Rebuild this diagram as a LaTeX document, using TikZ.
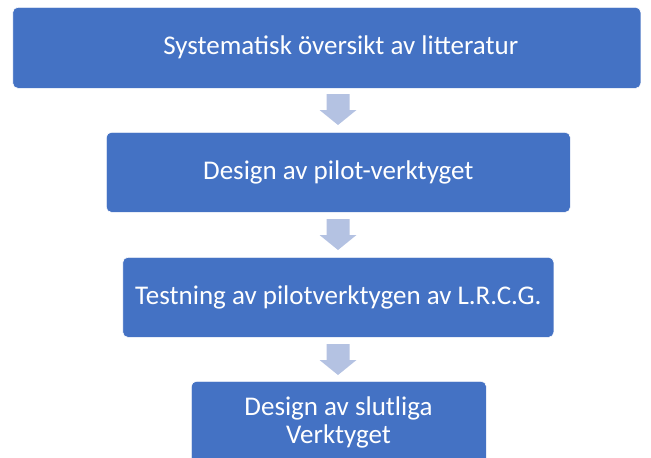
\documentclass[tikz,border=0pt]{standalone}
\usepackage{fontspec}
\setmainfont{Carlito}
\definecolor{boxblue}{HTML}{4472C4}
\definecolor{arrblue}{HTML}{B4C2E2}
\begin{document}
\begin{tikzpicture}[x=1pt,y=-1pt,
  stepbox/.style={fill=boxblue, draw=white, line width=0.6pt, rounded corners=5pt, text=white, font=\fontsize{27}{28}\selectfont, align=center, inner sep=0pt},
  blockarrow/.style={fill=arrblue, draw=none}]
\useasboundingbox (0,0) rectangle (651,458);
\node[stepbox, minimum width=628, minimum height=81, anchor=north west] (s1) at (12.5,7) {\hspace*{28pt}Systematisk översikt av litteratur};
\node[stepbox, minimum width=464, minimum height=80, anchor=north west] (s2) at (106,132) {Design av pilot-verktyget};
\node[stepbox, minimum width=431, minimum height=80, anchor=north west] (s3) at (122.5,257) {Testning av pilotverktygen av L.R.C.G.};
\begin{scope}
\clip (0,0) rectangle (651,458);
\node[stepbox, minimum width=295, minimum height=86, anchor=north west] (s4) at (191,381) {};
\node[text=white, font=\fontsize{27}{28}\selectfont, align=center, inner sep=0pt, anchor=north] (t4) at (338.5,397) {Design av slutliga\\Verktyget};
\end{scope}
% block arrows
\newcommand{\blkarrow}[3]{%
  \fill[blockarrow] (#1-11.5,#2) -- (#1+11.5,#2) -- (#1+11.5,#2+16) -- (#1+18.5,#2+16) -- (#1,#3) -- (#1-18.5,#2+16) -- (#1-11.5,#2+16) -- cycle;}
\blkarrow{338}{94}{125}
\blkarrow{338}{219}{250}
\blkarrow{338}{344}{375}
\end{tikzpicture}
\end{document}
